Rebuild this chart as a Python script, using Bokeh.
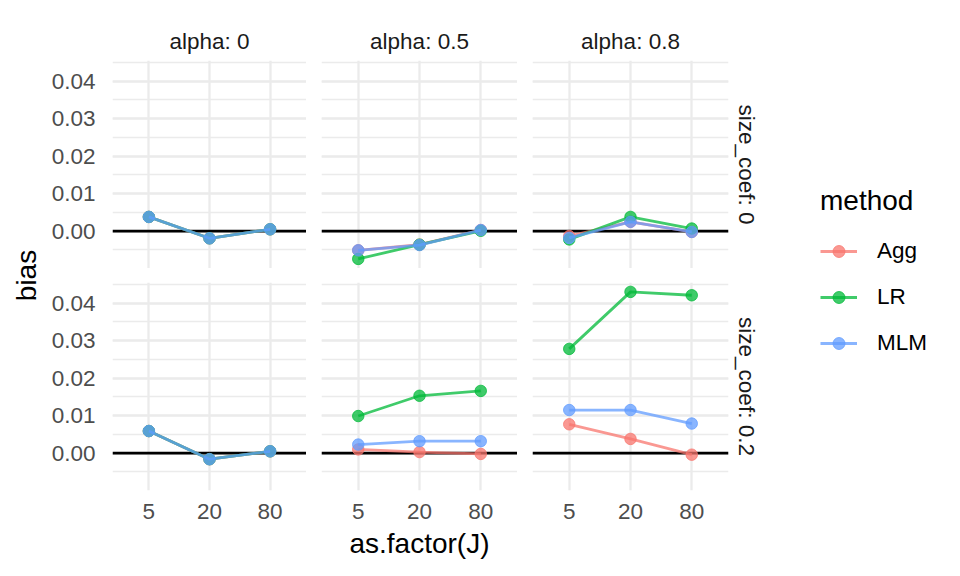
import numpy as np
from bokeh.plotting import figure
from bokeh.models import (FactorRange, Range1d, Span, Title, Label, Legend, LegendItem,
                          SingleIntervalTicker, CategoricalTicker, PrintfTickFormatter,
                          ColumnDataSource)
from bokeh.layouts import row, column
from bokeh.embed import file_html
from bokeh.resources import INLINE

# ---------------- data ----------------
J_levels = ["5", "20", "80"]
alpha_levels = ["0", "0.5", "0.8"]
size_levels = ["0", "0.2"]
methods = ["Agg", "LR", "MLM"]
method_colors = ["#F8766D", "#00BA38", "#619CFF"]

# bias[size_coef] -> one list per alpha level, values for J = 5, 20, 80
bias_Agg = {
    "0":   [[0.0038, -0.0019, 0.0005], [-0.0051, -0.0036, 0.0003], [-0.0013, 0.0025, -0.0002]],
    "0.2": [[0.0059, -0.0016, 0.0005], [0.0010, 0.0003, -0.0002], [0.0077, 0.0038, -0.0004]],
}
bias_LR = {
    "0":   [[0.0038, -0.0019, 0.0005], [-0.0074, -0.0036, 0.0001], [-0.0022, 0.0038, 0.0007]],
    "0.2": [[0.0059, -0.0016, 0.0005], [0.0099, 0.0153, 0.0166], [0.0278, 0.0430, 0.0421]],
}
bias_MLM = {
    "0":   [[0.0038, -0.0019, 0.0005], [-0.0051, -0.0037, 0.0003], [-0.0018, 0.0025, -0.0002]],
    "0.2": [[0.0059, -0.0016, 0.0005], [0.0023, 0.0032, 0.0032], [0.0115, 0.0115, 0.0079]],
}
bias_by_method = {"Agg": bias_Agg, "LR": bias_LR, "MLM": bias_MLM}

# ---------------- style ----------------
FONT = "Liberation Sans"
SMALL = "22.5px"
LARGE = "28px"
GRID = "#EBEBEB"
FRAME_W = 196
FRAME_H = 208
ALPHA = 0.75
LINE_W = 2.8
PT_SIZE = 11.5
TOTAL_H = 576


def make_panel(si, ai):
    top = si == 0
    first = ai == 0
    last = ai == len(alpha_levels) - 1
    bl = 62 if first else 15
    br = 44 if last else 0
    bt = 60 if top else 14
    bb = 0 if top else 86
    p = figure(width=bl + FRAME_W + br, height=bt + FRAME_H + bb,
               x_range=FactorRange(factors=J_levels, range_padding=0.1,
                                   range_padding_units="absolute"),
               y_range=Range1d(-0.00995, 0.0455),
               x_axis_location=None if top else "below",
               y_axis_location="left" if first else None,
               output_backend="svg", toolbar_location=None, title=None,
               min_border_left=bl, min_border_right=br,
               min_border_top=bt, min_border_bottom=bb)
    p.outline_line_color = None
    p.background_fill_color = "white"
    p.border_fill_color = "white"

    yticker = SingleIntervalTicker(interval=0.01, num_minor_ticks=2)
    for g in p.ygrid:
        g.ticker = yticker
        g.grid_line_color = GRID
        g.grid_line_width = 2.3
        g.minor_grid_line_color = GRID
        g.minor_grid_line_width = 1.3
    for g in p.xgrid:
        g.ticker = CategoricalTicker()
        g.grid_line_color = GRID
        g.grid_line_width = 2.3

    if first:
        ax = p.yaxis[0]
        ax.ticker = yticker
        ax.formatter = PrintfTickFormatter(format="%.2f")
        ax.axis_line_color = None
        ax.major_tick_line_color = None
        ax.minor_tick_line_color = None
        ax.major_label_standoff = 11
        ax.major_label_text_font = FONT
        ax.major_label_text_font_size = SMALL
        ax.major_label_text_color = "#4D4D4D"
    if not top:
        ax = p.xaxis[0]
        ax.axis_line_color = None
        ax.major_tick_line_color = None
        ax.minor_tick_line_color = None
        ax.major_label_standoff = 7
        ax.major_label_text_font = FONT
        ax.major_label_text_font_size = SMALL
        ax.major_label_text_color = "#4D4D4D"
        if ai == 1:
            ax.axis_label = "as.factor(J)"
            ax.axis_label_text_font = FONT
            ax.axis_label_text_font_size = LARGE
            ax.axis_label_text_font_style = "normal"
            ax.axis_label_text_color = "black"
            ax.axis_label_standoff = 6

    p.add_layout(Span(location=0, dimension="width", line_color="black",
                      line_width=2.8, level="underlay"))

    for m, c in zip(methods, method_colors):
        vals = bias_by_method[m][size_levels[si]][ai]
        src = ColumnDataSource(dict(J=J_levels, bias=vals))
        p.line("J", "bias", source=src, line_color=c, line_width=LINE_W, line_alpha=ALPHA)
        p.scatter("J", "bias", source=src, size=PT_SIZE, fill_color=c, line_color=c,
                  fill_alpha=ALPHA, line_alpha=ALPHA)

    if top:
        p.add_layout(Title(text=f"alpha: {alpha_levels[ai]}", align="center",
                           text_font=FONT, text_font_size=SMALL, text_color="#1A1A1A",
                           text_font_style="normal", standoff=14), "above")
    if last:
        p.add_layout(Title(text=f"size_coef: {size_levels[si]}", align="center",
                           text_font=FONT, text_font_size=SMALL, text_color="#1A1A1A",
                           text_font_style="normal", standoff=10), "right")
    return p


rows = []
for si in range(len(size_levels)):
    rows.append(row(*[make_panel(si, ai) for ai in range(len(alpha_levels))]))
grid = column(*rows)

# y axis title
LEFT_W = 48
left = figure(width=LEFT_W, height=TOTAL_H, x_range=Range1d(0, LEFT_W),
              y_range=Range1d(0, TOTAL_H),
              output_backend="svg", toolbar_location=None, title=None,
              x_axis_location=None, y_axis_location=None, min_border=0)
left.grid.visible = False
left.outline_line_color = None
left.add_layout(Label(x=26, y=TOTAL_H - 275, text="bias", angle=np.pi / 2,
                      text_align="center", text_baseline="middle", text_font=FONT,
                      text_font_size=LARGE, text_color="black"))

# legend
LEG_W = 188
leg = figure(width=LEG_W, height=TOTAL_H, x_range=Range1d(0, LEG_W),
             y_range=Range1d(0, TOTAL_H),
             output_backend="svg", toolbar_location=None, title=None,
             x_axis_location=None, y_axis_location=None, min_border=0)
leg.grid.visible = False
leg.outline_line_color = None
items = []
for m, c in zip(methods, method_colors):
    ksrc = ColumnDataSource(dict(J=J_levels, bias=bias_by_method[m]["0"][0]))
    lr = leg.line("J", "bias", source=ksrc, line_color=c, line_width=LINE_W,
                  line_alpha=ALPHA, visible=False)
    sr = leg.scatter("J", "bias", source=ksrc, size=PT_SIZE, fill_color=c, line_color=c,
                     fill_alpha=ALPHA, line_alpha=ALPHA, visible=False)
    items.append(LegendItem(label=m, renderers=[lr, sr]))
legend = Legend(items=items, location=(48, TOTAL_H - 358), title="method",
                title_text_font=FONT, title_text_font_size=LARGE,
                title_text_font_style="normal", title_text_color="black",
                title_standoff=19,
                label_text_font=FONT, label_text_font_size=SMALL, label_text_color="black",
                glyph_width=37, glyph_height=30, label_height=30, label_standoff=20,
                spacing=16, padding=0, margin=0, border_line_color=None,
                background_fill_alpha=0, click_policy="none")
leg.add_layout(legend)

layout = row(left, grid, leg)
open("out.html", "w").write(file_html(layout, INLINE))
